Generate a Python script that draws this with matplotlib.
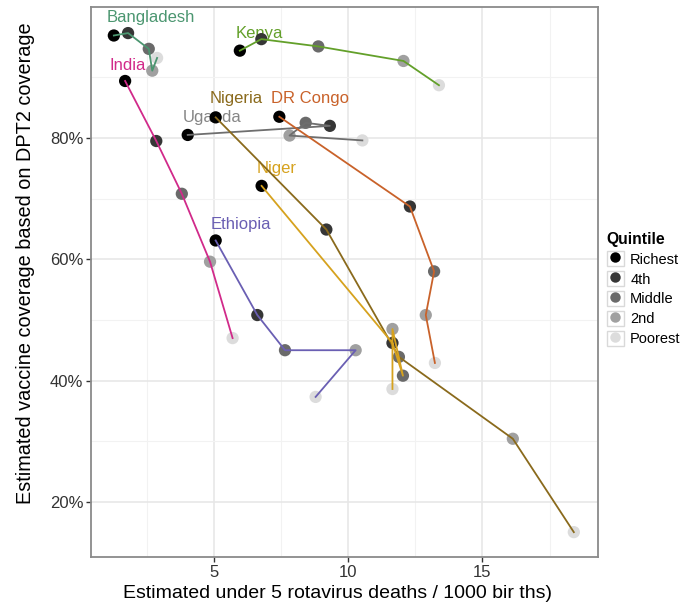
import matplotlib
matplotlib.use('Agg')
import matplotlib.pyplot as plt
from matplotlib.patches import Rectangle
from matplotlib.lines import Line2D
from matplotlib.ticker import FuncFormatter

plt.rcParams['font.family'] = ['Liberation Sans', 'DejaVu Sans']

# quintile order along each path: Richest, 4th, Middle, 2nd, Poorest
quintiles = ['Richest', '4th', 'Middle', '2nd', 'Poorest']
quintile_colors = ['#000000', '#363636', '#6a6a6a', '#a0a0a0', '#dcdcdc']

countries = ['Bangladesh', 'India', 'Kenya', 'Uganda', 'Nigeria', 'DR Congo', 'Niger', 'Ethiopia']

# under 5 rotavirus deaths per 1000 births
deaths = {
    'Bangladesh': [1.28, 1.81, 2.58, 2.71, 2.89],
    'India':      [1.70, 2.86, 3.81, 4.86, 5.70],
    'Kenya':      [5.97, 6.77, 8.89, 12.06, 13.38],
    'Uganda':     [4.03, 9.32, 8.42, 7.82, 10.53],
    'Nigeria':    [5.07, 9.19, 11.89, 16.13, 18.40],
    'DR Congo':   [7.44, 12.30, 13.20, 12.89, 13.23],
    'Niger':      [6.78, 11.65, 12.04, 11.65, 11.65],
    'Ethiopia':   [5.07, 6.62, 7.65, 10.28, 8.79],
}

# DPT2 coverage, percent
coverage = {
    'Bangladesh': [96.9, 97.3, 94.7, 91.1, 93.2],
    'India':      [89.4, 79.5, 70.8, 59.6, 47.0],
    'Kenya':      [94.4, 96.3, 95.1, 92.7, 88.7],
    'Uganda':     [80.5, 82.0, 82.5, 80.4, 79.6],
    'Nigeria':    [83.4, 64.9, 43.9, 30.4, 15.0],
    'DR Congo':   [83.5, 68.7, 58.0, 50.8, 42.9],
    'Niger':      [72.1, 46.2, 40.8, 48.5, 38.6],
    'Ethiopia':   [63.1, 50.8, 45.0, 45.0, 37.3],
}

line_colors = {
    'Bangladesh': '#4b9670', 'India': '#d12a8a', 'Kenya': '#63a02a',
    'Uganda': '#6e6e6e', 'Nigeria': '#8a6a1c', 'DR Congo': '#c9622a',
    'Niger': '#d6a21e', 'Ethiopia': '#6a5fb3',
}
text_colors = dict(line_colors, Uganda='#858585')

# where the country names sit
label_pos = {
    'Bangladesh': (2.64, 99.8), 'Kenya': (6.70, 97.2), 'India': (1.79, 91.9),
    'Nigeria': (5.85, 86.5), 'DR Congo': (8.57, 86.5), 'Uganda': (4.92, 83.3),
    'Niger': (7.34, 74.9), 'Ethiopia': (6.0, 65.8),
}

fig = plt.figure(figsize=(6.98, 6.07), dpi=100)
ax = fig.add_axes([91/698, 50/607, 507/698, 550/607])

for c in countries:
    ax.scatter(deaths[c], coverage[c], s=78, c=quintile_colors, linewidths=0, zorder=3)
    ax.plot(deaths[c], coverage[c], color=line_colors[c], lw=1.3, zorder=4)
    lx, ly = label_pos[c]
    ax.text(lx, ly, c, color=text_colors[c], fontsize=12, ha='center', va='center', zorder=2)

ax.set_xlim(0.43, 19.3)
ax.set_ylim(10.9, 101.6)
ax.set_xticks([5, 10, 15])
ax.set_xticks([2.5, 7.5, 12.5, 17.5], minor=True)
ax.set_yticks([20, 40, 60, 80])
ax.set_yticks([30, 50, 70, 90], minor=True)
ax.yaxis.set_major_formatter(FuncFormatter(lambda v, p: f'{v:.0f}%'))
ax.grid(which='major', color='#e6e6e6', lw=1.1, zorder=0)
ax.grid(which='minor', color='#f2f2f2', lw=0.8, zorder=0)
ax.set_axisbelow(True)
for s in ax.spines.values():
    s.set_color('#8a8a8a')
    s.set_linewidth(1.3)
ax.tick_params(which='major', length=3.5, width=1, color='#333333', labelsize=12, labelcolor='#333333', pad=2)
ax.tick_params(which='minor', length=0)

ax.set_xlabel('Estimated under 5 rotavirus deaths / 1000 bir ths)', fontsize=14)
ax.xaxis.set_label_coords(0.487, -0.050)
ax.set_ylabel('Estimated vaccine coverage based on DPT2 coverage', fontsize=14.3)
ax.yaxis.set_label_coords(-0.11, 0.534)

handles = [(Rectangle((0, 0), 1, 1, facecolor='white', edgecolor='#d9d9d9', lw=1),
            Line2D([], [], ls='', marker='o', ms=7.5, color=col, mec='none'))
           for col in quintile_colors]
leg = fig.legend(handles, quintiles, title='Quintile', loc='center left',
                 bbox_to_anchor=(601/698, 1 - 289/607), frameon=False,
                 handlelength=1.15, handleheight=1.15, handletextpad=0.45,
                 labelspacing=0.33, fontsize=10.5, title_fontsize=11.3, borderaxespad=0)
leg.get_title().set_fontweight('bold')
leg._legend_box.align = 'left'

fig.savefig('out.png', dpi=100)
